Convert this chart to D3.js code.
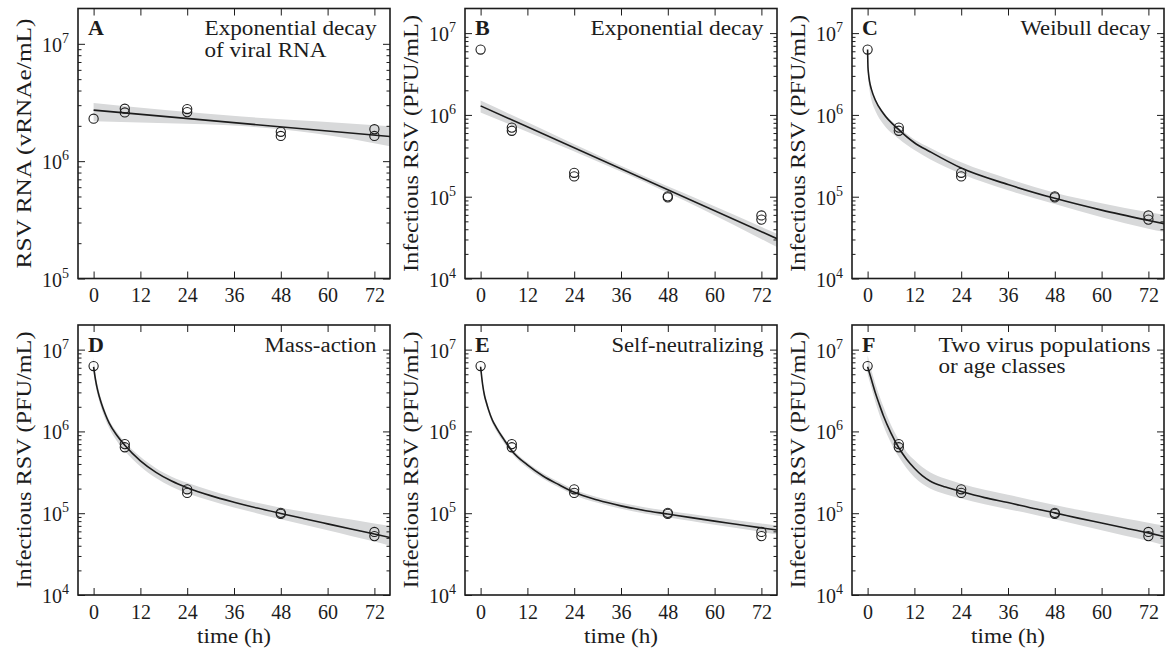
<!DOCTYPE html>
<html>
<head>
<meta charset="utf-8">
<script src="https://cdn.jsdelivr.net/npm/d3@7"></script>
<style>
  html, body { margin: 0; padding: 0; background: #fff; }
  svg { display: block; font-family: "Liberation Serif", "Times New Roman", serif; }
</style>
</head>
<body>
<svg id="fig" width="1171" height="651"></svg>
<script>
// ---- axis ticks ----
const hourTicks = [0, 12, 24, 36, 48, 60, 72];
const timeDomain = [-4, 76];
const yTop = 2e7;

// ---- measured samples ----
const rnaTimes  = [0, 8, 8, 24, 24, 48, 48, 72, 72];
const rnaValues = [2.3e6, 2.8e6, 2.6e6, 2.78e6, 2.62e6, 1.78e6, 1.64e6, 1.87e6, 1.64e6];

const pfuTimes  = [0, 8, 8, 24, 24, 48, 48, 72, 72];
const pfuValues = [6.3e6, 7.0e5, 6.4e5, 1.96e5, 1.77e5, 1.01e5, 0.98e5, 5.9e4, 5.25e4];

// ---- A: exponential decay of viral RNA ----
const fitATimes = [0, 76];
const fitAValues = [2.72e6, 1.62e6];
const bandATimes = [0, 19, 38, 57, 76];
const bandALow  = [2.19e6, 2.10e6, 1.99e6, 1.72e6, 1.34e6];
const bandAHigh = [3.13e6, 2.72e6, 2.40e6, 2.19e6, 1.98e6];

// ---- B: exponential decay ----
const fitBTimes = [0, 76];
const fitBValues = [1.29e6, 3.07e4];
const bandBTimes = [0, 19, 38, 57, 76];
const bandBLow  = [1.07e6, 4.51e5, 1.84e5, 6.97e4, 2.42e4];
const bandBHigh = [1.50e6, 5.68e5, 2.16e5, 8.77e4, 3.53e4];

// ---- C: Weibull decay ----
const fitCTimes = [0, 0.1, 0.25, 0.5, 1, 2, 4, 8, 12, 16, 24, 36, 48, 60, 72, 76];
const fitCValues = [6.31e6, 3.80e6, 3.16e6, 2.57e6, 2.04e6, 1.51e6, 1.05e6, 6.61e5, 4.57e5, 3.55e5, 2.24e5, 1.41e5, 9.55e4, 6.85e4, 5.13e4, 4.68e4];
const bandCLow  = [6.31e6, 3.02e6, 2.51e6, 2.00e6, 1.51e6, 1.12e6, 7.76e5, 5.13e5, 3.72e5, 2.88e5, 1.91e5, 1.20e5, 8.13e4, 5.62e4, 4.07e4, 3.72e4];
const bandCHigh = [6.31e6, 4.17e6, 3.39e6, 2.75e6, 2.14e6, 1.58e6, 1.10e6, 7.08e5, 5.01e5, 3.98e5, 2.63e5, 1.66e5, 1.12e5, 8.32e4, 6.46e4, 6.03e4];

// ---- D: mass-action ----
const fitDTimes = [0, 0.5, 1, 1.5, 2, 3, 4, 6, 8, 12, 16, 20, 24, 30, 36, 42, 48, 54, 60, 66, 72, 76];
const fitDValues = [6.17e6, 4.27e6, 3.24e6, 2.63e6, 2.19e6, 1.62e6, 1.26e6, 8.91e5, 6.76e5, 4.37e5, 3.16e5, 2.47e5, 2.05e5, 1.64e5, 1.365e5, 1.156e5, 9.93e4, 8.57e4, 7.41e4, 6.41e4, 5.56e4, 5.05e4];
const bandDLow  = [5.13e6, 3.63e6, 2.82e6, 2.29e6, 1.91e6, 1.41e6, 1.10e6, 7.59e5, 5.75e5, 3.72e5, 2.69e5, 2.10e5, 1.75e5, 1.42e5, 1.175e5, 9.95e4, 8.45e4, 7.21e4, 6.17e4, 5.27e4, 4.52e4, 4.01e4];
const bandDHigh = [8.13e6, 4.90e6, 3.72e6, 2.95e6, 2.45e6, 1.78e6, 1.38e6, 9.77e5, 7.41e5, 4.90e5, 3.55e5, 2.80e5, 2.36e5, 1.89e5, 1.57e5, 1.34e5, 1.17e5, 1.04e5, 9.33e4, 8.36e4, 7.50e4, 6.97e4];

// ---- E: self-neutralizing ----
const fitETimes = [0, 0.5, 1, 1.5, 2, 3, 4, 6, 8, 12, 16, 20, 24, 30, 36, 42, 48, 54, 60, 66, 72, 76];
const fitEValues = [6.17e6, 3.80e6, 2.75e6, 2.24e6, 1.86e6, 1.38e6, 1.12e6, 7.94e5, 5.82e5, 3.89e5, 2.85e5, 2.24e5, 1.80e5, 1.45e5, 1.23e5, 1.081e5, 9.77e4, 8.83e4, 8.00e4, 7.28e4, 6.62e4, 6.24e4];
const bandELow  = [5.50e6, 3.47e6, 2.51e6, 2.04e6, 1.70e6, 1.26e6, 1.02e6, 7.24e5, 5.37e5, 3.59e5, 2.63e5, 2.07e5, 1.66e5, 1.34e5, 1.135e5, 9.93e4, 8.95e4, 8.05e4, 7.24e4, 6.53e4, 5.89e4, 5.50e4];
const bandEHigh = [6.92e6, 4.07e6, 2.95e6, 2.40e6, 2.00e6, 1.48e6, 1.20e6, 8.51e5, 6.24e5, 4.17e5, 3.09e5, 2.43e5, 1.95e5, 1.57e5, 1.34e5, 1.186e5, 1.07e5, 9.77e4, 8.91e4, 8.17e4, 7.50e4, 7.08e4];

// ---- F: two virus populations or age classes ----
const fitFTimes = [0, 1, 2, 3, 4, 6, 8, 10, 12, 14, 16, 20, 24, 30, 36, 42, 48, 54, 60, 66, 72, 76];
const fitFValues = [6.17e6, 4.27e6, 2.95e6, 2.14e6, 1.58e6, 9.55e5, 6.31e5, 4.57e5, 3.55e5, 2.88e5, 2.48e5, 2.09e5, 1.84e5, 1.55e5, 1.35e5, 1.16e5, 1.01e5, 8.71e4, 7.59e4, 6.61e4, 5.75e4, 5.19e4];
const bandFLow  = [5.01e6, 3.39e6, 2.29e6, 1.62e6, 1.20e6, 7.24e5, 4.90e5, 3.55e5, 2.75e5, 2.29e5, 2.00e5, 1.70e5, 1.51e5, 1.29e5, 1.12e5, 9.77e4, 8.41e4, 7.24e4, 6.17e4, 5.31e4, 4.57e4, 4.07e4];
const bandFHigh = [8.51e6, 5.50e6, 3.80e6, 2.75e6, 2.04e6, 1.20e6, 7.94e5, 5.62e5, 4.47e5, 3.67e5, 3.16e5, 2.63e5, 2.29e5, 1.93e5, 1.68e5, 1.45e5, 1.26e5, 1.10e5, 9.77e4, 8.61e4, 7.67e4, 7.08e4];

const pfuLabel = "Infectious RSV (PFU/mL)";

const panels = [
  { tag: "A", note: ["Exponential decay", "of viral RNA"], noteW: [172, 122], yLabel: "RSV RNA (vRNAe/mL)", yLabelW: 250, yMin: 1e5,
    ptT: rnaTimes, ptV: rnaValues, fitT: fitATimes, fitV: fitAValues, bandT: bandATimes, lo: bandALow, hi: bandAHigh },
  { tag: "B", note: ["Exponential decay"], noteW: [173], yLabel: pfuLabel, yLabelW: 257, yMin: 1e4,
    ptT: pfuTimes, ptV: pfuValues, fitT: fitBTimes, fitV: fitBValues, bandT: bandBTimes, lo: bandBLow, hi: bandBHigh },
  { tag: "C", note: ["Weibull decay"], noteW: [130], yLabel: pfuLabel, yLabelW: 257, yMin: 1e4,
    ptT: pfuTimes, ptV: pfuValues, fitT: fitCTimes, fitV: fitCValues, bandT: fitCTimes, lo: bandCLow, hi: bandCHigh },
  { tag: "D", note: ["Mass-action"], noteW: [112], yLabel: pfuLabel, yLabelW: 257, yMin: 1e4,
    ptT: pfuTimes, ptV: pfuValues, fitT: fitDTimes, fitV: fitDValues, bandT: fitDTimes, lo: bandDLow, hi: bandDHigh },
  { tag: "E", note: ["Self-neutralizing"], noteW: [152], yLabel: pfuLabel, yLabelW: 257, yMin: 1e4,
    ptT: pfuTimes, ptV: pfuValues, fitT: fitETimes, fitV: fitEValues, bandT: fitETimes, lo: bandELow, hi: bandEHigh },
  { tag: "F", note: ["Two virus populations", "or age classes"], noteW: [212, 127], yLabel: pfuLabel, yLabelW: 257, yMin: 1e4,
    ptT: pfuTimes, ptV: pfuValues, fitT: fitFTimes, fitV: fitFValues, bandT: fitFTimes, lo: bandFLow, hi: bandFHigh }
];

// ---- layout ----
const colLeft = [78, 465, 852];
const rowTop = [8.5, 325];
const W = 312, H = 270;
const ink = "#1c1c1c";

const svg = d3.select("#fig");
svg.append("rect").attr("width", 1171).attr("height", 651).attr("fill", "#fff");

panels.forEach((p, i) => {
  const col = i % 3, row = Math.floor(i / 3);
  const g = svg.append("g").attr("transform", `translate(${colLeft[col]},${rowTop[row]})`);

  const x = d3.scaleLinear().domain(timeDomain).range([0, W]);
  const y = d3.scaleLog().domain([p.yMin, yTop]).range([H, 0]);

  const clipId = "clip" + p.tag;
  g.append("clipPath").attr("id", clipId)
    .append("rect").attr("width", W).attr("height", H);

  const plot = g.append("g").attr("clip-path", `url(#${clipId})`);

  // confidence band
  const bandRows = p.bandT.map((t, k) => ({ t, lo: p.lo[k], hi: p.hi[k] }));
  plot.append("path")
    .datum(bandRows)
    .attr("fill", "#d8d9da")
    .attr("stroke", "none")
    .attr("d", d3.area()
      .x(d => x(d.t))
      .y0(d => y(d.lo))
      .y1(d => y(d.hi))
      .curve(d3.curveMonotoneX));

  // best fit
  const fitRows = p.fitT.map((t, k) => ({ t, v: p.fitV[k] }));
  plot.append("path")
    .datum(fitRows)
    .attr("fill", "none")
    .attr("stroke", ink)
    .attr("stroke-width", 1.6)
    .attr("d", d3.line()
      .x(d => x(d.t))
      .y(d => y(d.v))
      .curve(d3.curveMonotoneX));

  // measurements
  g.append("g").selectAll("circle")
    .data(p.ptT.map((t, k) => ({ t, v: p.ptV[k] })))
    .join("circle")
    .attr("cx", d => x(d.t))
    .attr("cy", d => y(d.v))
    .attr("r", 4.6)
    .attr("fill", "none")
    .attr("stroke", ink)
    .attr("stroke-width", 1.1);

  // ticks
  const lo = Math.round(Math.log10(p.yMin));
  const majors = d3.range(lo, 8).map(e => Math.pow(10, e));
  const minors = [];
  d3.range(lo, 8).forEach(e => {
    for (let m = 2; m <= 9; m++) {
      const v = m * Math.pow(10, e);
      if (v < yTop) minors.push(v);
    }
  });

  const styleAxis = sel => {
    sel.select(".domain").remove();
    sel.attr("font-family", null).attr("font-size", 20).attr("color", ink);
    sel.selectAll(".tick line").attr("stroke-width", 1);
  };

  g.append("g").attr("transform", `translate(0,${H})`)
    .call(d3.axisBottom(x).tickValues(hourTicks).tickSize(-7).tickPadding(9.5).tickFormat(d3.format("d")))
    .call(styleAxis);
  g.append("g")
    .call(d3.axisTop(x).tickValues(hourTicks).tickSize(-7).tickFormat(""))
    .call(styleAxis);

  g.append("g").call(d3.axisLeft(y).tickValues(majors).tickSize(-7).tickFormat("")).call(styleAxis);
  g.append("g").call(d3.axisLeft(y).tickValues(minors).tickSize(-3.5).tickFormat("")).call(styleAxis);
  g.append("g").attr("transform", `translate(${W},0)`)
    .call(d3.axisRight(y).tickValues(majors).tickSize(-7).tickFormat("")).call(styleAxis);
  g.append("g").attr("transform", `translate(${W},0)`)
    .call(d3.axisRight(y).tickValues(minors).tickSize(-3.5).tickFormat("")).call(styleAxis);

  // power-of-ten labels
  majors.forEach(v => {
    const t = g.append("text")
      .attr("x", -9)
      .attr("y", y(v) + 8)
      .attr("text-anchor", "end")
      .attr("fill", ink)
      .attr("font-size", 20);
    t.append("tspan").text("10");
    t.append("tspan").attr("font-size", 14).attr("dy", -9).text(String(Math.round(Math.log10(v))));
  });

  // frame
  g.append("rect")
    .attr("width", W).attr("height", H)
    .attr("fill", "none")
    .attr("stroke", ink)
    .attr("stroke-width", 1.6);

  // panel tag
  g.append("text")
    .attr("x", 10).attr("y", 26.5)
    .attr("font-size", 22).attr("font-weight", "bold")
    .attr("fill", ink)
    .text(p.tag);

  // model name
  const noteLeft = W - 13.5 - p.noteW[0];
  p.note.forEach((line, k) => {
    g.append("text")
      .attr("x", noteLeft)
      .attr("y", 26.5 + k * 21.7)
      .attr("font-size", 20)
      .attr("fill", ink)
      .attr("textLength", p.noteW[k])
      .attr("lengthAdjust", "spacingAndGlyphs")
      .text(line);
  });

  // y label
  g.append("text")
    .attr("transform", `translate(-47,${H / 2}) rotate(-90)`)
    .attr("text-anchor", "middle")
    .attr("font-size", 21)
    .attr("fill", ink)
    .attr("textLength", p.yLabelW)
    .attr("lengthAdjust", "spacingAndGlyphs")
    .text(p.yLabel);

  // x label on the bottom row
  if (row === 1) {
    g.append("text")
      .attr("x", W / 2).attr("y", H + 48)
      .attr("text-anchor", "middle")
      .attr("font-size", 21)
      .attr("fill", ink)
      .attr("textLength", 74)
      .attr("lengthAdjust", "spacingAndGlyphs")
      .text("time (h)");
  }
});
</script>
</body>
</html>
